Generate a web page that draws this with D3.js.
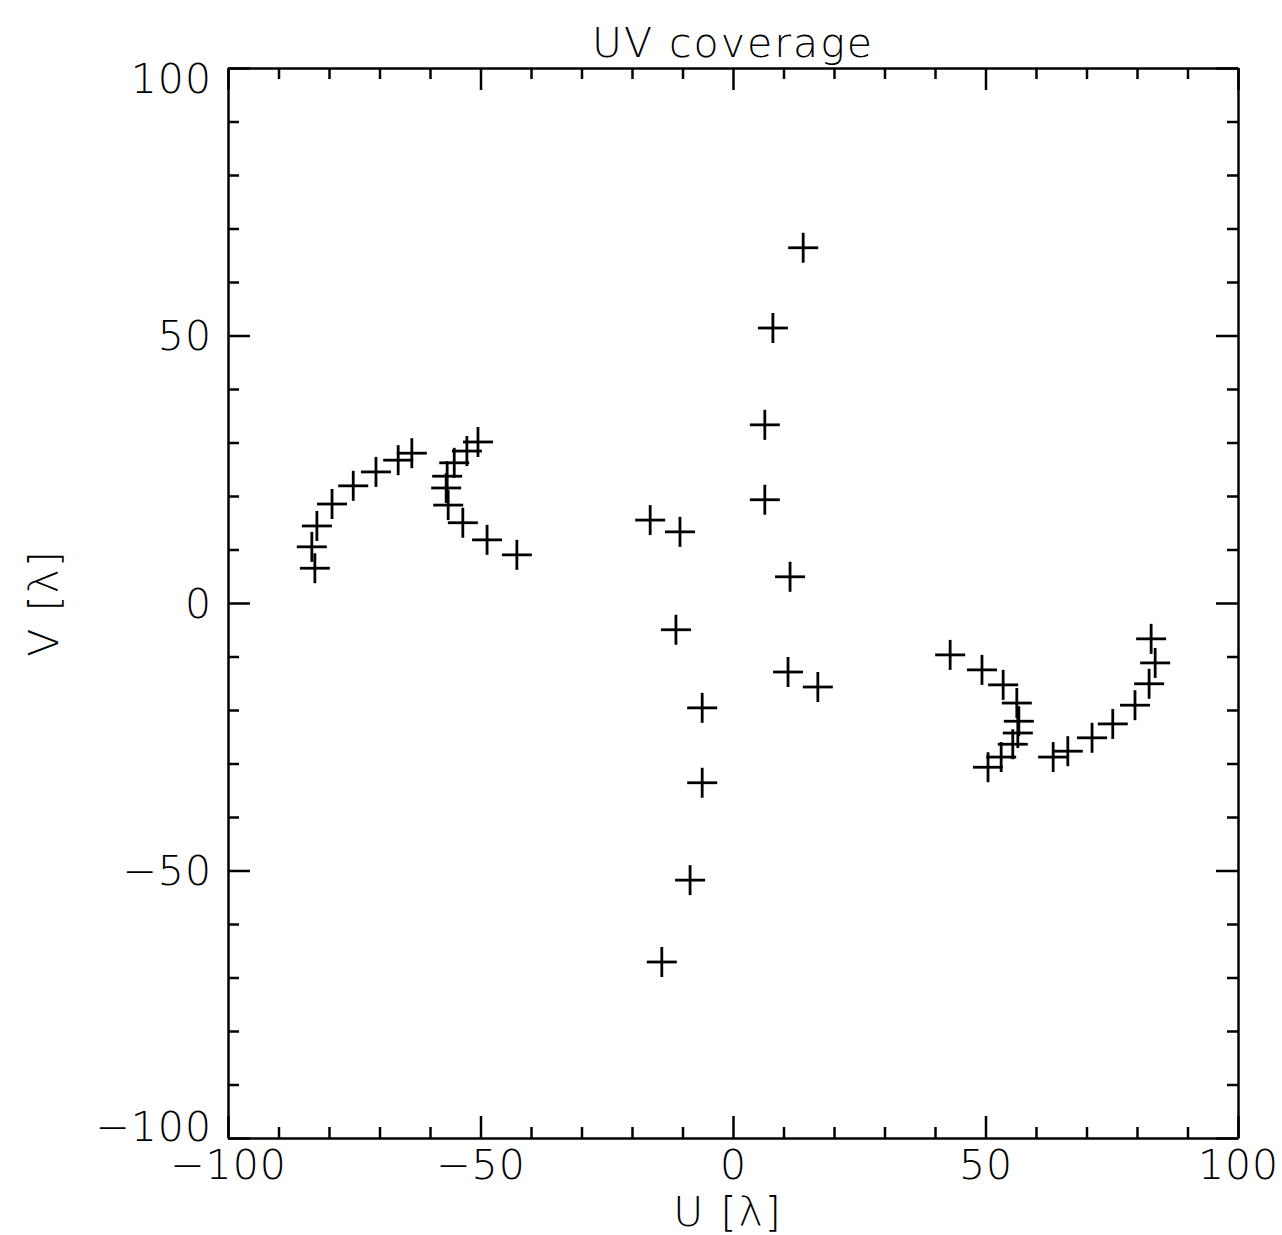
<!DOCTYPE html>
<html>
<head>
<meta charset="utf-8">
<script src="https://cdn.jsdelivr.net/npm/d3@7"></script>
<style>
  body { margin: 0; background: #fff; }
  text { font-family: "DejaVu Sans", Roboto, sans-serif; font-weight: 200; fill: #000; }
  .axis path, .axis line { stroke: #000; stroke-width: 2.5; }
</style>
</head>
<body>
<div class="uvplot"></div>
<script>
// uv samples, in wavelengths
var uVals = [
  -82.8, -83.4, -82.4, -79.4, -75.2, -70.7, -66.3, -63.6,
  -50.5, -52.7, -55.2, -56.6, -56.8, -56.4, -53.5, -48.7, -42.8,
  13.9, 7.9, 6.3, 6.3, 11.3, -16.4, -10.5, -11.3, -6.1, -6.1, -8.5, -14.1, 10.9, 16.8,
  43.0, 49.3, 53.5, 56.2, 56.6, 56.4, 55.4, 53.1, 50.5,
  63.4, 66.3, 71.1, 75.2, 79.6, 82.4, 83.6, 82.8
]
var vVals = [
  6.5, 10.5, 14.4, 18.5, 21.9, 24.5, 26.7, 28.0,
  30.1, 28.4, 26.2, 23.7, 21.5, 18.3, 15.0, 11.8, 9.0,
  66.4, 51.4, 33.3, 19.3, 4.9, 15.5, 13.3, -5.0, -19.6, -33.6, -51.8, -67.1, -12.9, -15.7,
  -9.7, -12.5, -15.3, -18.7, -22.1, -24.3, -26.4, -28.8, -30.7,
  -28.8, -27.7, -25.2, -22.6, -19.1, -15.1, -11.2, -6.7
]
var majorTicks = [-100, -50, 0, 50, 100]
var minorTicks = [-90, -80, -70, -60, -40, -30, -20, -10, 10, 20, 30, 40, 60, 70, 80, 90]
var tickLabels = ["\u2212100", "\u221250", "0", "50", "100"]

function drawUV(){
  var pL = 228, pR = 1238, pT = 68, pB = 1138

  var svg = d3.select(".uvplot").append("svg")
    .attr("width", 1282)
    .attr("height", 1235)

  var x = d3.scaleLinear().domain([-100, 100]).range([pL, pR])
  var y = d3.scaleLinear().domain([-100, 100]).range([pB, pT])

  function fmt(d) { return tickLabels[majorTicks.indexOf(d)] }

  // labelled axes (bottom, left)
  svg.append("g").attr("class", "axis")
    .attr("transform", "translate(0," + pB + ")")
    .call(d3.axisBottom(x).tickValues(majorTicks).tickSize(-22).tickSizeOuter(0).tickPadding(12).tickFormat(fmt))
    .call(function(g){ g.selectAll("text").style("font-size", "41px").style("letter-spacing", "1px") })

  // end labels sit a little inside the frame, like the original
  svg.append("g").attr("class", "axis")
    .attr("transform", "translate(" + pL + ",0)")
    .call(d3.axisLeft(y).tickValues(majorTicks).tickSize(-22).tickSizeOuter(0).tickPadding(16).tickFormat(fmt))
    .call(function(g){
      g.selectAll("text").style("font-size", "41px").style("letter-spacing", "1px")
        .attr("dy", function(d){ return d == 100 ? "0.6em" : d == -100 ? "0.05em" : "0.35em" })
    })

  // unlabelled axes (top, right)
  svg.append("g").attr("class", "axis")
    .attr("transform", "translate(0," + pT + ")")
    .call(d3.axisTop(x).tickValues(majorTicks).tickSize(-22).tickSizeOuter(0).tickFormat(""))

  svg.append("g").attr("class", "axis")
    .attr("transform", "translate(" + pR + ",0)")
    .call(d3.axisRight(y).tickValues(majorTicks).tickSize(-22).tickSizeOuter(0).tickFormat(""))

  // minor ticks on all four sides
  var minor = [
    [d3.axisBottom(x), "translate(0," + pB + ")"],
    [d3.axisTop(x), "translate(0," + pT + ")"],
    [d3.axisLeft(y), "translate(" + pL + ",0)"],
    [d3.axisRight(y), "translate(" + pR + ",0)"]
  ]
  minor.forEach(function(m){
    svg.append("g").attr("class", "axis")
      .attr("transform", m[1])
      .call(m[0].tickValues(minorTicks).tickSize(-11).tickSizeOuter(0).tickFormat(""))
      .select(".domain").remove()
  })

  // plus markers
  var pts = uVals.map(function(u, i){ return {u: u, v: vVals[i]} })
  var arm = 15
  var marks = svg.append("g").attr("stroke", "#000").attr("stroke-width", 2.8)
  marks.selectAll(".h").data(pts).enter().append("line")
    .attr("x1", function(d){ return x(d.u) - arm })
    .attr("x2", function(d){ return x(d.u) + arm })
    .attr("y1", function(d){ return y(d.v) })
    .attr("y2", function(d){ return y(d.v) })
  marks.selectAll(".v").data(pts).enter().append("line")
    .attr("x1", function(d){ return x(d.u) })
    .attr("x2", function(d){ return x(d.u) })
    .attr("y1", function(d){ return y(d.v) - arm })
    .attr("y2", function(d){ return y(d.v) + arm })

  // titles
  svg.append("text")
    .attr("x", (pL + pR) / 2).attr("y", 57)
    .attr("text-anchor", "middle")
    .style("font-size", "41px")
    .style("letter-spacing", "2px")
    .text("UV coverage")

  svg.append("text")
    .attr("x", (pL + pR) / 2 - 5).attr("y", 1226)
    .attr("text-anchor", "middle")
    .style("font-size", "41px")
    .style("letter-spacing", "2px")
    .text("U [\u03bb]")

  svg.append("text")
    .attr("transform", "translate(58," + y(0) + ") rotate(-90)")
    .attr("text-anchor", "middle")
    .style("font-size", "41px")
    .style("letter-spacing", "2px")
    .text("V [\u03bb]")
}
drawUV()
</script>
</body>
</html>
